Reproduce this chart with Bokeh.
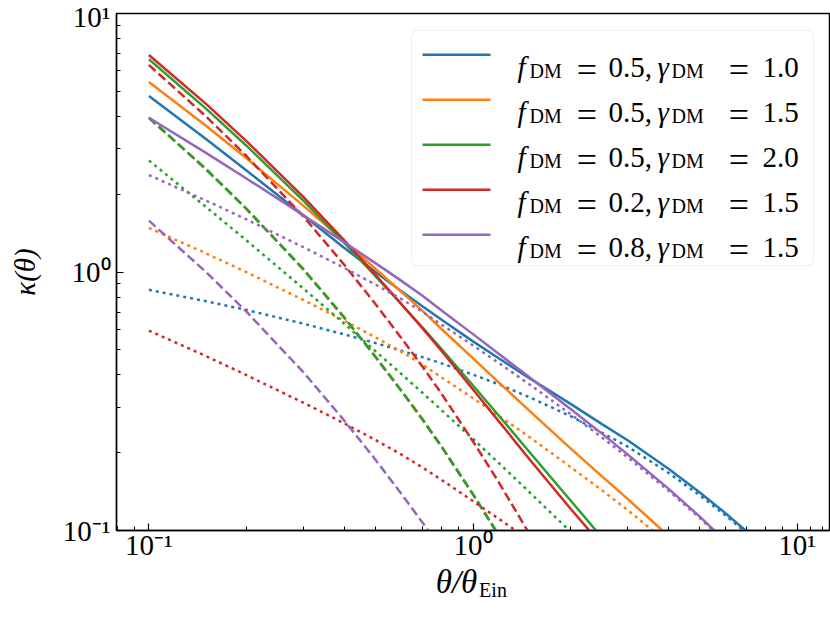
from bokeh.plotting import figure
from bokeh.models import Range1d, LinearScale, FixedTicker, Label, BoxAnnotation, LogAxis
from bokeh.embed import file_html
from bokeh.resources import INLINE

# ---------------- data ----------------
THETA = [0.1, 0.15, 0.2, 0.3, 0.4, 0.5, 0.6, 0.7, 0.8, 1.0, 1.2, 1.5,
         2.0, 2.5, 3.0, 4.0, 5.0, 6.0, 7.0, 8.0]

# f_DM = 0.5, gamma_DM = 1.0
TOT_05_10 = [4.80, 3.27, 2.47, 1.654, 1.242, 1.001, 0.844, 0.736, 0.654, 0.539,
             0.464, 0.387, 0.309, 0.258, 0.2235, 0.1737, 0.1406, 0.1169, 0.099, 0.0853]
BAR_05_10 = [3.95, 2.50, 1.755, 1.023, 0.668, 0.470, 0.348, 0.268, 0.211, 0.138,
             0.096, 0.060, 0.0318]
DM_05_10 = [0.853, 0.771, 0.713, 0.631, 0.574, 0.531, 0.496, 0.468, 0.443, 0.401,
            0.368, 0.327, 0.277, 0.239, 0.211, 0.1675, 0.137, 0.1146, 0.0975, 0.0842]

# f_DM = 0.5, gamma_DM = 1.5
TOT_05_15 = [5.43, 3.68, 2.753, 1.802, 1.317, 1.029, 0.840, 0.7055, 0.602, 0.463,
             0.374, 0.289, 0.2078, 0.162, 0.1325, 0.0956, 0.0736]
BAR_05_15 = [3.95, 2.50, 1.755, 1.023, 0.668, 0.470, 0.348, 0.268, 0.211, 0.138,
             0.096, 0.060, 0.0318]
DM_05_15 = [1.481, 1.181, 0.998, 0.779, 0.649, 0.559, 0.492, 0.4375, 0.391, 0.325,
            0.278, 0.229, 0.176, 0.143, 0.120, 0.0894, 0.070]

# f_DM = 0.5, gamma_DM = 2.0
TOT_05_20 = [6.65, 4.285, 3.08, 1.885, 1.30, 0.964, 0.752, 0.608, 0.503, 0.364,
             0.2786, 0.200, 0.1307, 0.0939, 0.0715]
BAR_05_20 = [3.95, 2.50, 1.755, 1.023, 0.668, 0.470, 0.348, 0.268, 0.211, 0.138,
             0.096, 0.060, 0.0318]
DM_05_20 = [2.70, 1.785, 1.325, 0.862, 0.632, 0.494, 0.404, 0.340, 0.292, 0.226,
            0.1826, 0.140, 0.0989, 0.0749]

# f_DM = 0.2, gamma_DM = 1.5
TOT_02_15 = [6.91, 4.47, 3.21, 1.949, 1.329, 0.976, 0.754, 0.604, 0.495, 0.351,
             0.265, 0.1875, 0.1214, 0.0877]
BAR_02_15 = [6.32, 4.00, 2.81, 1.637, 1.069, 0.752, 0.557, 0.429, 0.338, 0.221,
             0.154, 0.096, 0.0509]
DM_02_15 = [0.593, 0.473, 0.399, 0.312, 0.260, 0.224, 0.197, 0.175, 0.157, 0.130,
            0.111, 0.0915, 0.0705]

# f_DM = 0.8, gamma_DM = 1.5
TOT_08_15 = [3.95, 2.89, 2.30, 1.656, 1.305, 1.082, 0.926, 0.807, 0.710, 0.575,
             0.483, 0.390, 0.295, 0.237, 0.197, 0.1455, 0.1134, 0.0913, 0.0757]
BAR_08_15 = [1.58, 1.00, 0.702, 0.409, 0.267, 0.188, 0.139, 0.107, 0.0844, 0.0552]
DM_08_15 = [2.37, 1.89, 1.597, 1.247, 1.038, 0.894, 0.787, 0.700, 0.626, 0.520,
            0.445, 0.366, 0.282, 0.229, 0.192, 0.143, 0.112, 0.0904, 0.0751]

F_DM = ["0.5", "0.5", "0.5", "0.2", "0.8"]
GAMMA_DM = ["1.0", "1.5", "2.0", "1.5", "1.5"]
COLORS = ["#1f77b4", "#ff7f0e", "#2ca02c", "#d62728", "#9467bd"]
SERIES = [
    (TOT_05_10, BAR_05_10, DM_05_10),
    (TOT_05_15, BAR_05_15, DM_05_15),
    (TOT_05_20, BAR_05_20, DM_05_20),
    (TOT_02_15, BAR_02_15, DM_02_15),
    (TOT_08_15, BAR_08_15, DM_08_15),
]

X_MAJOR = [0.1, 1, 10]
X_MINOR = [0.08, 0.09, 0.2, 0.3, 0.4, 0.5, 0.6, 0.7, 0.8, 0.9,
           2, 3, 4, 5, 6, 7, 8, 9, 11, 12]
Y_MAJOR = [0.1, 1, 10]
Y_MINOR = [0.2, 0.3, 0.4, 0.5, 0.6, 0.7, 0.8, 0.9, 2, 3, 4, 5, 6, 7, 8, 9]
TICK_LABELS = {0.1: "10\u207b\u00b9", 1: "10\u2070", 10: "10\u00b9"}
X_TITLE = "\u03b8/\u03b8"
X_TITLE_SUB = "Ein"
Y_TITLE = "\u03ba(\u03b8)"

FONT = "Liberation Serif"
FS = 29      # main text size (px)
FS_SUB = 20  # subscript size (px)
NB = "\u00a0"

# ---------------- figure ----------------
W, H = 830, 620
p = figure(width=W, height=H, x_axis_type="log", y_axis_type="log",
           x_range=Range1d(10 ** -1.1, 10 ** 1.1), y_range=Range1d(0.1, 10),
           output_backend="svg", toolbar_location=None,
           min_border_left=116, min_border_right=1,
           min_border_top=13, min_border_bottom=90)
p.background_fill_color = "white"
p.border_fill_color = "white"
p.outline_line_color = "black"
p.outline_line_width = 1.4
p.xgrid.visible = False
p.ygrid.visible = False

# pixel-like coordinate system over the frame, for legend decorations
p.extra_x_ranges = {"px": Range1d(116, 829)}
p.extra_y_ranges = {"px": Range1d(530, 13)}
p.extra_x_scales = {"px": LinearScale()}
p.extra_y_scales = {"px": LinearScale()}

p.xaxis.ticker = FixedTicker(ticks=X_MAJOR, minor_ticks=X_MINOR)
p.yaxis.ticker = FixedTicker(ticks=Y_MAJOR, minor_ticks=Y_MINOR)
for ax in (p.xaxis, p.yaxis):
    ax.major_label_overrides = TICK_LABELS
    ax.major_label_text_font = FONT
    ax.major_label_text_font_size = f"{FS}px"
    ax.major_label_text_color = "black"
    ax.axis_line_color = "black"
    ax.axis_line_width = 1.4
    ax.major_tick_in = 7
    ax.major_tick_out = 0
    ax.minor_tick_in = 4
    ax.minor_tick_out = 0
    ax.major_tick_line_color = "black"
    ax.minor_tick_line_color = "black"
    ax.major_tick_line_width = 1.2
    ax.minor_tick_line_width = 1.0
    ax.axis_label_text_font = FONT
    ax.axis_label_text_font_style = "italic"
    ax.axis_label_text_color = "black"
p.yaxis.major_label_standoff = 6
p.xaxis.major_label_standoff = -2
p.yaxis.axis_label = Y_TITLE
p.yaxis.axis_label_text_font_size = f"{FS}px"
p.yaxis.axis_label_standoff = 19
p.xaxis.axis_label = X_TITLE + NB * 4
p.xaxis.axis_label_text_font_size = "33px"
p.xaxis.axis_label_standoff = 0

# second (label-only) bottom axis carrying the subscript of the x title
sub_ax = LogAxis(ticker=FixedTicker(ticks=[]), axis_line_color=None,
                 major_tick_line_color=None, minor_tick_line_color=None,
                 major_label_text_font_size="0px",
                 axis_label=NB * 8 + X_TITLE_SUB, axis_label_text_font=FONT,
                 axis_label_text_font_size=f"{FS_SUB}px",
                 axis_label_text_font_style="normal",
                 axis_label_text_color="black", axis_label_standoff=-24)
p.add_layout(sub_ax, "below")

LW = 2.5
for (tot, bar, dm), c in zip(SERIES, COLORS):
    p.line(THETA[:len(tot)], tot, line_color=c, line_width=LW)
    p.line(THETA[:len(bar)], bar, line_color=c, line_width=LW, line_dash="9 4")
    p.line(THETA[:len(dm)], dm, line_color=c, line_width=LW, line_dash="3 4")


def lab(x, y, text, size=FS, italic=False, align="left", baseline="alphabetic"):
    p.add_layout(Label(x=x, y=y, x_range_name="px", y_range_name="px", text=text,
                       text_font=FONT, text_font_size=f"{size}px",
                       text_font_style="italic" if italic else "normal",
                       text_align=align, text_baseline=baseline, text_color="black"))


# legend
p.add_layout(BoxAnnotation(left=411, right=813, top=30, bottom=265,
                           x_range_name="px", y_range_name="px",
                           fill_color="white", fill_alpha=0.8,
                           line_color="#cccccc", line_width=1.2,
                           border_radius=6))
ROW0, DROW = 54.3, 45
for i, (f, g, c) in enumerate(zip(F_DM, GAMMA_DM, COLORS)):
    r = ROW0 + i * DROW
    p.line([422, 490], [r, r], x_range_name="px", y_range_name="px",
           line_color=c, line_width=LW, level="overlay")
    b = r + 12.4
    lab(517, b, "f", italic=True)
    lab(529, b + 3.3, "DM", size=FS_SUB)
    lab(586.5, b + 3, "=", size=36, align="center")
    lab(608, b, f + ",")
    lab(657, b, "\u03b3", italic=True)
    lab(671, b + 3.3, "DM", size=FS_SUB)
    lab(738.5, b + 3, "=", size=36, align="center")
    lab(762, b, g)

open("out.html", "w").write(file_html(p, INLINE))
